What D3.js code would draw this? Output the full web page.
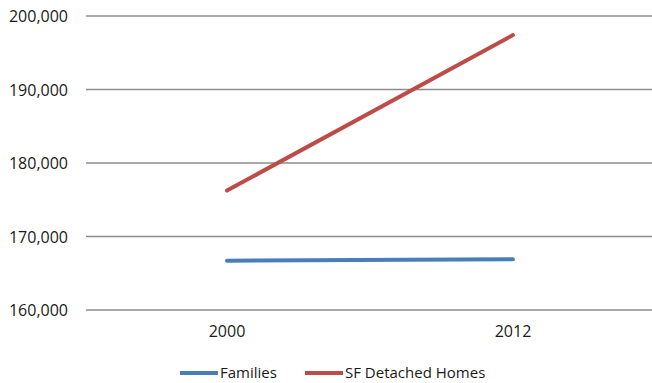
<!DOCTYPE html>
<html><head><meta charset="utf-8">
<script src="https://cdn.jsdelivr.net/npm/d3@7"></script>
<style>body{margin:0;background:#fff}svg{display:block}text{font-family:"Open Sans",sans-serif;fill:#1a1a1a}</style>
</head><body><svg id="c" width="652" height="383"></svg>
<script>
const categories = ["2000", "2012"];
const families = [166700, 166900];
const sfDetached = [176250, 197400];
const yTicks = [160000, 170000, 180000, 190000, 200000];
const seriesNames = ["Families", "SF Detached Homes"];
const colors = ["#4a7ebb", "#be4b48"];

(function () {
const svg = d3.select("#c");
const mLeft = 84, mRight = 656, mTop = 16, mBottom = 310;
const x = d3.scaleBand().domain(categories).range([mLeft, mRight]);
const y = d3.scaleLinear().domain([160000, 200000]).range([mBottom, mTop]);

const grid = svg.append("g");
grid.selectAll("line").data(yTicks).join("line")
  .attr("x1", 86).attr("x2", 652)
  .attr("y1", d => y(d)).attr("y2", d => y(d))
  .attr("stroke", "#8c8c8c").attr("stroke-width", 1.6);

const yAxis = d3.axisLeft(y).tickValues(yTicks).tickFormat(d3.format(",")).tickSize(0).tickPadding(0);
const ya = svg.append("g").attr("transform", "translate(68,0)").call(yAxis);
ya.select(".domain").remove();
ya.selectAll("text").style("font-size", "16px").style("font-family", "'Open Sans',sans-serif").attr("fill", "#1a1a1a").attr("dy", "0.36em");

const xAxis = d3.axisBottom(x).tickSize(0).tickPadding(0);
const xa = svg.append("g").attr("transform", "translate(0,326)").call(xAxis);
xa.select(".domain").remove();
xa.selectAll("text").style("font-size", "16px").style("font-family", "'Open Sans',sans-serif").attr("fill", "#1a1a1a").attr("dy", "0.71em");

const series = [families, sfDetached];
const line = d3.line().x((d, i) => x(categories[i]) + x.bandwidth() / 2).y(d => y(d));
series.forEach((s, k) => {
  svg.append("path").datum(s).attr("d", line)
    .attr("fill", "none").attr("stroke", colors[k]).attr("stroke-width", 4).attr("stroke-linecap", "round");
});

const legX = [180, 305];
seriesNames.forEach((n, k) => {
  const g = svg.append("g").attr("transform", `translate(${legX[k]},373)`);
  g.append("line").attr("x1", 0).attr("x2", 38).attr("stroke", colors[k]).attr("stroke-width", 4);
  g.append("text").attr("x", 40).attr("dy", "0.36em").style("font-size", "15px").text(n);
});
})();
</script></body></html>
